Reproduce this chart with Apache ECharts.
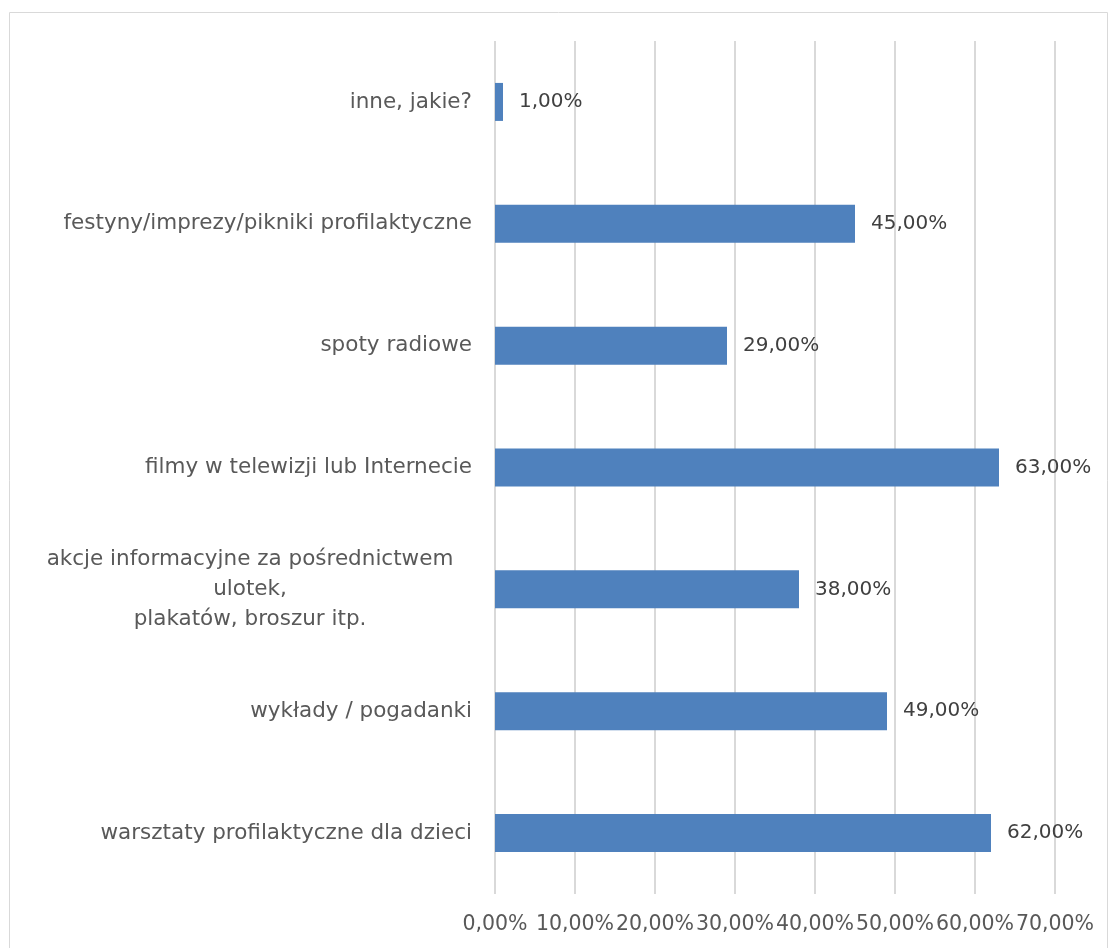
<!DOCTYPE html>
<html>
<head>
<meta charset="utf-8">
<script src="https://cdn.jsdelivr.net/npm/echarts@6/dist/echarts.min.js"></script>
<style>
  html, body { margin: 0; padding: 0; background: #fff; }
  #chart { width: 1110px; height: 948px; }
</style>
</head>
<body>
<div id="chart"></div>
<script>
// categories listed bottom -> top, as the category axis draws them
var categories = [
  'warsztaty profilaktyczne dla dzieci',
  'wykłady / pogadanki',
  'akcje informacyjne za pośrednictwem\nulotek,\nplakatów, broszur itp.',
  'filmy w telewizji lub Internecie',
  'spoty radiowe',
  'festyny/imprezy/pikniki profilaktyczne',
  'inne, jakie?'
]
var values = [62, 49, 38, 63, 29, 45, 1]
var tickMin = 0
var tickMax = 70
var tickStep = 10

function pct(v) {
  return v.toFixed(2).replace('.', ',') + '%'
}

var chart = echarts.init(document.getElementById('chart'))
chart.setOption({
  animation: false,
  textStyle: { fontFamily: 'DejaVu Sans' },
  graphic: [{
    type: 'rect',
    shape: { x: 9.5, y: 12.5, width: 1098, height: 960 },
    style: { fill: 'none', stroke: '#d9d9d9', lineWidth: 1 },
    silent: true
  }],
  grid: {
    left: 495,
    right: 55,
    top: 41,
    bottom: 54,
    containLabel: false
  },
  xAxis: {
    type: 'value',
    min: tickMin,
    max: tickMax,
    interval: tickStep,
    axisLine: { show: false },
    axisTick: { show: false },
    axisLabel: {
      margin: 20,
      fontSize: 20.5,
      color: '#595959',
      formatter: function (v) { return pct(v) }
    },
    splitLine: {
      show: true,
      lineStyle: { color: '#d9d9d9', width: 2 }
    }
  },
  yAxis: {
    type: 'category',
    data: categories,
    axisLine: { show: false },
    axisTick: { show: false },
    axisLabel: {
      margin: 23,
      fontSize: 21.5,
      color: '#595959',
      lineHeight: 30,
      formatter: function (v) {
        if (v.indexOf('\n') >= 0) return '{c|' + v + '}'
        return v
      },
      rich: {
        c: { width: 444, align: 'center', fontSize: 21.5, color: '#595959', lineHeight: 30 }
      }
    }
  },
  series: [{
    type: 'bar',
    data: values,
    barWidth: 38,
    itemStyle: { color: '#4f81bd' },
    label: {
      show: true,
      position: 'right',
      distance: 16,
      fontSize: 20,
      color: '#404040',
      formatter: function (p) { return pct(p.value) }
    }
  }]
})
</script>
</body>
</html>
